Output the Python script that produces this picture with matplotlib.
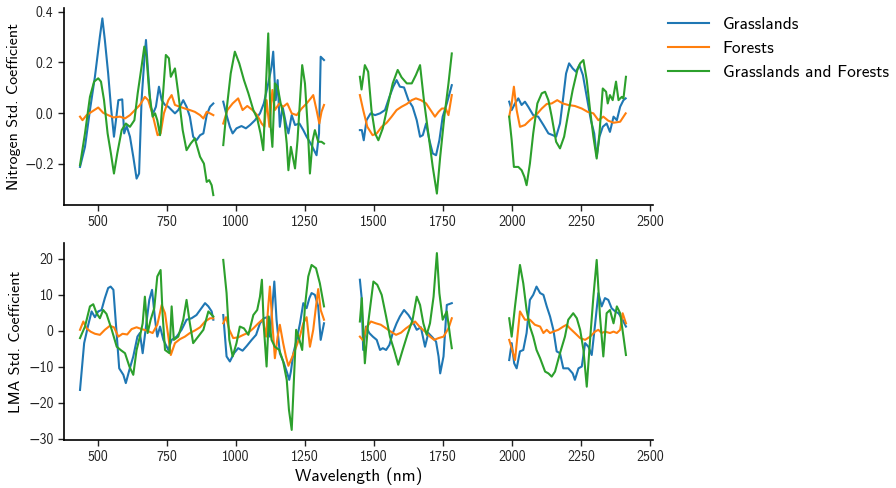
import numpy as np
import matplotlib
matplotlib.use("Agg")
import matplotlib.pyplot as plt

G = float("nan")

# ---------------- Nitrogen (top) ----------------
n_gr_wl = [435,453,471,489,507,516,525,537,547,558,574,588,595,604,616,628,640,649,658,668,674,682,691,700,710,721,731,743,755,767,779,791,809,821,833,845,857,870,882,894,906,918, G,
           954,966,978,988,1002,1020,1036,1051,1069,1087,1101,1117,1129,1135,1144,1151,1159,1169,1181,1190,1202,1214,1230,1244,1256,1271,1283,1292,1301,1307,1319, G,
           1449,1456,1463,1473,1488,1504,1522,1540,1556,1570,1582,1594,1609,1625,1640,1655,1667,1677,1689,1701,1713,1725,1737,1749,1764,1782, G,
           1990,1999,2011,2023,2035,2047,2059,2077,2095,2114,2132,2148,2160,2174,2186,2196,2207,2220,2232,2244,2257,2271,2286,2298,2307,2317,2329,2343,2355,2368,2380,2392,2404,2412]
n_gr = [-0.212,-0.133,0.012,0.143,0.301,0.373,0.288,0.156,0.025,-0.093,0.051,0.054,-0.080,-0.051,-0.093,-0.172,-0.258,-0.238,0.051,0.209,0.288,0.156,0.025,-0.001,0.025,0.104,0.051,0.032,0.025,0.012,-0.001,0.012,0.051,0.025,-0.014,-0.093,-0.107,-0.087,-0.080,-0.008,0.025,0.038, G,
        0.045,-0.008,-0.054,-0.080,-0.060,-0.051,-0.060,-0.047,-0.028,-0.001,0.038,0.117,0.183,0.242,0.051,0.130,-0.054,0.025,-0.041,-0.080,-0.008,-0.047,-0.041,-0.067,-0.093,-0.120,-0.146,-0.166,-0.080,0.222,0.209, G,
        -0.067,-0.067,-0.107,-0.028,-0.001,-0.008,-0.001,0.012,0.064,0.104,0.130,0.104,0.101,0.051,0.025,-0.028,-0.093,-0.087,-0.041,-0.107,-0.159,-0.166,-0.107,-0.014,0.038,0.110, G,
        0.045,0.012,0.038,0.058,0.032,0.045,0.025,-0.008,-0.014,-0.047,-0.080,-0.087,-0.093,-0.041,0.064,0.156,0.196,0.176,0.163,0.189,0.150,0.064,-0.028,-0.080,-0.172,-0.093,-0.054,-0.041,-0.074,-0.014,-0.028,0.025,0.051,0.058]

n_fo_wl = [435,444,459,477,501,519,537,556,580,598,616,634,652,670,682,697,707,716,727,739,755,767,779,797,815,833,851,870,882,894,906,918, G,
           954,969,988,1008,1024,1041,1060,1077,1093,1103,1111,1121,1132,1141,1157,1171,1186,1202,1220,1238,1256,1271,1280,1292,1302,1310,1319, G,
           1449,1461,1476,1495,1510,1528,1546,1564,1582,1600,1619,1637,1652,1670,1689,1705,1721,1734,1746,1760,1770,1782, G,
           1990,1999,2007,2017,2029,2047,2065,2087,2108,2126,2144,2164,2184,2204,2228,2253,2274,2295,2313,2331,2349,2368,2392,2412]
n_fo = [-0.014,-0.028,-0.008,0.005,0.022,0.001,-0.008,-0.017,-0.014,-0.021,-0.008,0.012,0.032,0.064,0.051,-0.001,-0.047,-0.087,-0.080,-0.001,0.051,0.071,0.032,0.025,0.018,0.012,0.005,-0.008,-0.021,0.005,-0.001,-0.008, G,
        -0.041,0.012,0.038,0.058,0.012,0.028,0.012,-0.008,-0.041,-0.054,0.051,-0.054,0.091,0.012,0.038,0.025,0.038,-0.001,-0.008,0.018,0.038,0.058,0.071,0.012,-0.041,0.005,0.032, G,
        0.071,0.012,-0.054,-0.087,-0.080,-0.054,-0.038,-0.014,0.012,0.025,0.036,0.051,0.058,0.051,0.038,0.012,-0.014,0.005,0.018,0.018,-0.008,0.071, G,
        -0.014,0.038,0.104,0.012,-0.054,-0.047,-0.028,-0.008,0.018,0.036,0.038,0.051,0.038,0.032,0.028,0.018,0.005,-0.001,-0.028,-0.014,-0.030,-0.038,-0.034,-0.001]

n_gf_wl = [435,453,471,486,501,511,522,535,547,558,570,586,601,616,632,644,658,668,676,686,698,707,715,725,734,746,757,764,773,779,791,807,821,836,851,870,884,894,903,912,918, G,
           954,966,981,996,1012,1029,1045,1063,1077,1089,1099,1109,1117,1126,1132,1141,1151,1162,1174,1184,1190,1199,1208,1214,1223,1232,1240,1250,1260,1268,1278,1286,1298,1310,1319, G,
           1449,1455,1467,1479,1491,1504,1516,1532,1549,1568,1586,1600,1619,1637,1652,1667,1681,1697,1713,1728,1740,1755,1770,1782, G,
           1990,1999,2007,2023,2035,2045,2053,2065,2077,2092,2108,2120,2132,2144,2160,2174,2189,2204,2220,2237,2247,2259,2271,2283,2295,2307,2317,2329,2341,2347,2355,2365,2377,2386,2398,2404,2413]
n_gf = [-0.205,-0.080,0.064,0.124,0.137,0.124,0.051,-0.080,-0.159,-0.238,-0.159,-0.067,-0.041,-0.054,-0.028,0.078,0.183,0.262,0.222,0.078,-0.014,-0.001,-0.028,-0.087,0.051,0.229,0.216,0.143,0.163,0.176,0.078,-0.067,-0.146,-0.120,-0.100,-0.172,-0.199,-0.271,-0.264,-0.284,-0.323, G,
        -0.126,0.012,0.156,0.242,0.196,0.130,0.078,0.012,-0.021,-0.080,-0.146,0.117,0.314,-0.054,-0.133,0.117,0.104,0.038,-0.014,-0.120,-0.225,-0.133,-0.185,-0.218,-0.107,0.051,0.189,0.117,-0.054,-0.238,-0.107,-0.067,-0.113,-0.113,-0.120, G,
        0.143,0.093,0.189,0.163,0.012,-0.080,-0.107,-0.060,0.025,0.117,0.170,0.141,0.117,0.117,0.150,0.189,0.051,-0.080,-0.212,-0.317,-0.172,-0.014,0.117,0.235, G,
        -0.014,-0.107,-0.212,-0.212,-0.225,-0.251,-0.284,-0.199,-0.080,0.038,0.078,0.084,0.051,-0.014,-0.113,-0.139,-0.093,-0.001,0.091,0.170,0.196,0.209,0.130,0.012,-0.093,-0.179,-0.080,0.097,0.084,0.038,0.071,0.051,0.124,0.051,0.064,0.058,0.143]

# ---------------- LMA (bottom) ----------------
l_gr_wl = [435,450,465,477,489,501,513,525,537,546,556,565,577,592,601,614,628,643,652,662,674,686,696,707,715,725,737,755,767,785,803,821,839,857,870,888,900,912,918, G,
           954,966,978,993,1008,1024,1039,1057,1073,1087,1101,1113,1123,1132,1139,1147,1159,1174,1186,1193,1199,1208,1220,1232,1244,1256,1266,1274,1286,1298,1307,1319, G,
           1449,1455,1461,1471,1483,1496,1510,1522,1532,1544,1556,1568,1582,1594,1609,1625,1640,1655,1670,1685,1697,1712,1725,1734,1740,1752,1764,1782, G,
           1990,1999,2008,2017,2029,2041,2053,2065,2077,2089,2102,2114,2126,2138,2150,2162,2174,2186,2204,2220,2228,2241,2253,2265,2277,2289,2301,2313,2325,2337,2349,2361,2374,2386,2398,2413]
l_gr = [-16.4,-3.4,1.7,5.4,3.8,5.4,5.8,9.1,11.9,12.3,11.4,2.1,-10.4,-12.2,-14.5,-10.8,-7.1,-1.6,-0.6,-6.2,1.2,8.6,11.4,3.1,-1.6,1.2,-2.5,-5.3,-2.5,-1.6,0.3,3.1,3.5,4.4,5.8,7.7,6.8,5.4,3.1, G,
        4.4,-7.1,-8.5,-6.2,-4.8,-5.5,-4.2,-2.5,-1.1,2.1,3.5,3.8,-1.6,6.8,13.7,3.1,-6.2,-9.0,-11.8,-13.6,-11.3,-6.2,-2.5,2.1,7.7,6.3,9.1,10.5,10.0,6.8,-2.5,2.1, G,
        14.2,9.5,-5.3,1.2,-0.6,-1.6,-2.5,-5.3,-4.8,-5.3,-3.9,-0.6,2.1,4.0,5.8,4.4,2.6,0.3,1.0,-4.4,-0.6,-1.8,-3.0,-7.1,-11.8,-7.1,7.2,7.7, G,
        -8.1,-3.4,-9.0,-10.4,-5.7,-5.3,-0.6,8.6,10.0,12.3,10.5,10.0,6.8,4.0,0.3,-5.7,-6.2,-10.4,-10.4,-11.8,-13.6,-10.4,-9.9,-3.4,-4.4,-6.7,1.7,10.5,6.8,9.1,8.6,6.3,5.4,4.9,3.5,1.2]

l_fo_wl = [435,447,459,473,489,507,525,543,558,574,589,606,622,640,658,676,698,715,731,743,755,764,779,797,815,833,851,870,888,906,918, G,
           954,964,976,990,1008,1027,1045,1063,1081,1097,1109,1117,1123,1132,1141,1151,1159,1171,1181,1190,1202,1214,1230,1244,1256,1268,1280,1290,1298,1307,1319, G,
           1449,1461,1473,1489,1507,1525,1544,1561,1580,1598,1616,1634,1649,1667,1685,1703,1718,1734,1752,1770,1782, G,
           1990,2001,2011,2029,2047,2065,2083,2102,2114,2126,2138,2150,2168,2186,2198,2210,2228,2247,2265,2283,2301,2313,2325,2337,2355,2368,2380,2392,2401,2413]
l_fo = [0.3,2.6,0.7,-0.2,-0.8,-1.1,0.3,1.4,1.0,-1.6,-0.8,-1.0,0.5,1.0,0.5,0.1,-0.6,1.7,7.2,4.9,-1.6,-6.7,-3.4,-2.3,-1.6,-0.6,0.1,1.0,2.6,3.5,3.5, G,
        2.1,3.8,0.3,-2.0,-1.8,-1.1,-0.5,0.7,2.1,3.2,-1.6,6.8,12.3,2.1,-7.6,-1.6,1.7,-3.4,-7.1,-9.7,-7.6,-5.3,-2.0,2.1,3.8,-4.4,0.3,6.8,11.6,5.8,3.1, G,
        -1.6,-2.7,1.0,2.6,2.1,1.7,0.7,-0.2,-1.1,-0.5,0.7,1.7,2.6,1.0,-0.2,-1.6,-2.5,-2.0,-1.6,0.7,3.5, G,
        -2.5,-5.3,-8.1,5.4,3.1,3.1,1.7,1.2,-0.6,0.3,-0.6,-0.2,0.3,1.2,1.7,0.7,-0.6,-2.0,-2.5,-1.6,-0.2,0.3,-0.6,-0.2,-0.6,-0.2,-0.6,0.3,4.9,2.1]

l_gf_wl = [435,453,471,483,495,507,519,531,550,568,582,598,614,628,640,652,662,670,680,691,704,715,727,734,743,759,767,775,791,809,821,833,845,863,882,900,918, G,
           954,966,976,988,1002,1014,1029,1045,1063,1077,1087,1094,1101,1111,1119,1129,1141,1157,1171,1184,1192,1202,1211,1218,1230,1240,1250,1262,1274,1290,1304,1319, G,
           1449,1456,1467,1479,1498,1512,1528,1544,1558,1573,1588,1604,1621,1640,1655,1667,1679,1691,1703,1716,1728,1737,1749,1764,1776,1782, G,
           1990,1999,2011,2029,2041,2053,2065,2077,2089,2102,2120,2132,2144,2156,2174,2192,2204,2222,2235,2247,2259,2271,2283,2295,2307,2319,2331,2343,2355,2368,2380,2392,2404,2413]
l_gf = [-2.0,1.2,6.8,7.4,4.9,3.5,5.8,4.7,0.3,-4.4,-5.3,-6.2,-9.9,-12.2,-5.3,-1.6,2.1,9.5,-0.6,3.1,6.3,15.1,16.9,4.9,-5.3,-6.2,6.8,-2.5,-1.6,3.1,8.6,2.1,-3.4,-1.6,0.3,5.4,4.0, G,
        19.7,10.5,-2.5,-7.1,-3.4,1.2,0.7,-1.1,4.4,5.8,9.5,14.2,1.2,-9.9,4.0,-2.5,-4.4,-5.3,-8.5,-13.6,-21.9,-27.5,-11.8,0.3,-2.5,-5.3,6.8,15.1,18.3,17.4,13.2,6.8, G,
        2.6,9.1,-9.0,2.1,13.7,12.8,10.0,4.0,-1.6,-5.3,-9.4,-5.3,-1.1,3.1,9.5,7.2,2.1,-1.1,2.1,9.5,21.6,10.5,3.1,5.4,-1.6,-4.8, G,
        3.5,-1.6,6.8,18.3,13.2,5.8,1.2,-1.6,-5.3,-7.6,-11.3,-11.8,-12.7,-11.3,-6.2,-1.6,3.1,4.9,3.5,0.3,-5.3,-15.5,-2.5,9.5,19.7,4.0,-7.1,4.9,5.8,2.1,6.8,4.9,-1.6,-6.7]

series_names = ["Grasslands", "Forests", "Grasslands and Forests"]
colors = ["#1f77b4", "#ff7f0e", "#2ca02c"]
x_ticks = [500, 750, 1000, 1250, 1500, 1750, 2000, 2250, 2500]

plt.rcParams["font.family"] = ["cmss10", "DejaVu Sans"]
plt.rcParams["axes.unicode_minus"] = True
plt.rcParams["mathtext.fontset"] = "cm"

fig = plt.figure(figsize=(8.96, 4.88), dpi=100)
W, H = 896, 488
L, R = 64, 653
ax1 = fig.add_axes([L / W, 1 - 205 / H, (R - L) / W, (205 - 8) / H])
ax2 = fig.add_axes([L / W, 1 - 440 / H, (R - L) / W, (440 - 243) / H])

top = [(n_gr_wl, n_gr), (n_fo_wl, n_fo), (n_gf_wl, n_gf)]
bot = [(l_gr_wl, l_gr), (l_fo_wl, l_fo), (l_gf_wl, l_gf)]

lines = []
for (wl, v), c, name in zip(top, colors, series_names):
    ln, = ax1.plot(np.array(wl, float), np.array(v, float), color=c, lw=1.5, label=name)
    lines.append(ln)
for (wl, v), c in zip(bot, colors):
    ax2.plot(np.array(wl, float), np.array(v, float), color=c, lw=1.5)

for ax in (ax1, ax2):
    ax.set_xlim(377, 2511)
    ax.set_xticks(x_ticks)
    for s in ("top", "right"):
        ax.spines[s].set_visible(False)
    ax.spines["left"].set_linewidth(1.2)
    ax.spines["bottom"].set_linewidth(1.2)
    ax.tick_params(labelsize=10, length=4, width=1.0, colors="#222222")
    ax.set_facecolor("white")

ax1.set_ylim(-0.362, 0.414)
ax1.set_yticks([-0.2, 0.0, 0.2, 0.4])
ax1.set_yticklabels(["\u22120.2", "0.0", "0.2", "0.4"])
ax2.set_ylim(-30.3, 24.4)
ax2.set_yticks([-30, -20, -10, 0, 10, 20])
ax2.set_yticklabels(["\u221230", "\u221220", "\u221210", "0", "10", "20"])

ax1.set_ylabel("Nitrogen Std. Coefficient", fontsize=11.5)
ax2.set_ylabel("LMA Std. Coefficient", fontsize=11.5)
ax1.yaxis.set_label_coords(-0.073, 0.5)
ax2.yaxis.set_label_coords(-0.069, 0.5)
ax2.set_xlabel("Wavelength (nm)", fontsize=12.5, labelpad=2)

fig.legend(handles=lines, loc="upper left", bbox_to_anchor=(661 / W, 1 - 10 / H),
           frameon=False, fontsize=12.5, handlelength=2.35, borderaxespad=0,
           labelspacing=0.5)

fig.savefig("out.png", dpi=100, facecolor="white")
